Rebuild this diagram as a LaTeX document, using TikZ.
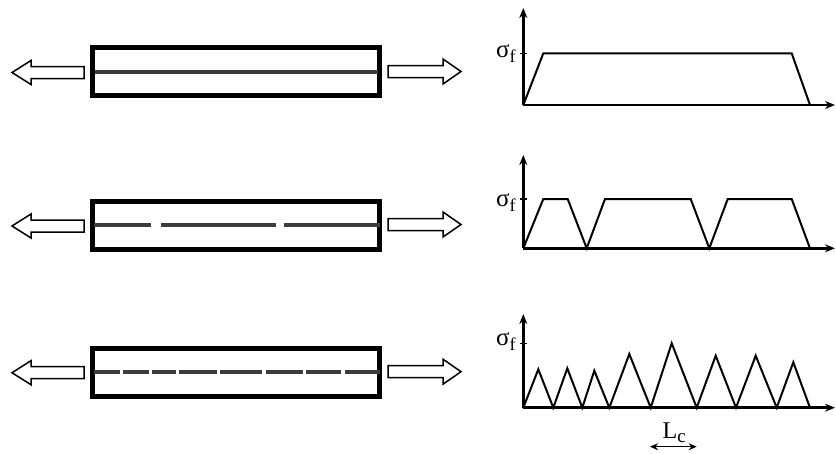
\documentclass[tikz,border=0pt]{standalone}
\usepackage{fontspec}
\setmainfont{Liberation Serif}
\usetikzlibrary{arrows.meta}
\definecolor{fibergray}{HTML}{3C3C3C}
\tikzset{
  boxline/.style={line width=5pt, line join=miter},
  fiber/.style={line width=4pt, color=fibergray},
  hollow/.style={draw, line width=1.5pt, fill=white, line join=miter},
  curve/.style={line width=2pt, line join=miter},
  axis/.style={line width=2.5pt, -{Stealth[length=10pt,width=8pt]}},
  tick/.style={line width=1.5pt},
  lab/.style={inner sep=0pt, anchor=base west},
}
\newcommand{\sigf}{{\fontsize{25}{25}\selectfont σ}\raisebox{-5pt}{\fontsize{18}{18}\selectfont f}}
\begin{document}
\begin{tikzpicture}[x=1pt,y=-1pt]
\useasboundingbox (0,0) rectangle (836,453);
% ---- specimens ----
\foreach \c/\dl/\dr in {71.5/1/0, 225.5/0.5/-1, 372/0.7/-0.3}{
  \draw[boxline] (92.5,\c-24) rectangle (379.5,\c+24);
  \draw[hollow] (12,\c+\dl) -- (31,\c+\dl-12) -- (31,\c+\dl-6) -- (84,\c+\dl-6)
     -- (84,\c+\dl+6) -- (31,\c+\dl+6) -- (31,\c+\dl+12) -- cycle;
  \draw[hollow] (388,\c+\dr-6) -- (443,\c+\dr-6) -- (443,\c+\dr-12.5) -- (461,\c+\dr)
     -- (443,\c+\dr+12.5) -- (443,\c+\dr+6) -- (388,\c+\dr+6) -- cycle;
}
% fibers
\draw[fiber] (95,72.3) -- (378,72.3);
\foreach \a/\b in {94/150.7, 160.7/275.7, 284.3/380}
  \draw[fiber] (\a,225) -- (\b,225);
\foreach \a/\b in {94.3/120, 122.7/149, 152.3/176, 179.3/216.7, 220/262.3, 265.7/302.7, 306/341, 345/380}
  \draw[fiber] (\a,372.3) -- (\b,372.3);
% ---- graph 1 ----
\coordinate (o1) at (523.3,105);
\draw[axis] (o1) -- (523.3,8);
\draw[axis] (o1) -- (835,105);
\draw[tick] (520,53.3) -- (526.5,53.3);
\node[lab] (s1) at (496,57.5) {\sigf};
\draw[curve] (o1) -- (543.3,53.3) -- (791.7,53.3) -- (810,105);
% ---- graph 2 ----
\coordinate (o2) at (523.3,248.3);
\draw[axis] (o2) -- (523.3,155);
\draw[axis] (o2) -- (835,248.3);
\draw[tick] (520,199) -- (526.5,199);
\node[lab] (s2) at (496,206.7) {\sigf};
\draw[curve] (o2) -- (543.3,199) -- (567.7,199) -- (586.7,248.3) -- (605,199) -- (690.7,199)
  -- (709.3,248.3) -- (727.7,199) -- (791.7,199) -- (810,248.3);
% ---- graph 3 ----
\coordinate (o3) at (523.3,407.7);
\draw[axis] (o3) -- (523.3,314);
\draw[axis] (o3) -- (835,407.7);
\draw[tick] (520,343.3) -- (526.5,343.3);
\node[lab] (s3) at (496,345) {\sigf};
\draw[curve] (o3) -- (538.3,369.3) -- (553.3,407.7) -- (567.3,368.3) -- (582.3,407.7)
  -- (594.3,370.7) -- (609.3,407.7) -- (629.3,354) -- (650.7,407.7) -- (671.7,343.3)
  -- (696.7,407.7) -- (715.7,355.7) -- (736,407.7) -- (755.7,355.7) -- (776.7,407.7)
  -- (793.3,362.3) -- (810,407.7);
% ---- Lc ----
\node[lab] (lc) at (662.5,438.3) {{\fontsize{24}{24}\selectfont L}\raisebox{-4pt}{\fontsize{19}{19}\selectfont c}};
\coordinate (lca) at (650,446.7);
\coordinate (lcb) at (696.7,446.7);
\draw[line width=1.5pt, {Stealth[length=8pt,width=7pt]}-{Stealth[length=8pt,width=7pt]}] (lca) -- (lcb);
\end{tikzpicture}
\end{document}
